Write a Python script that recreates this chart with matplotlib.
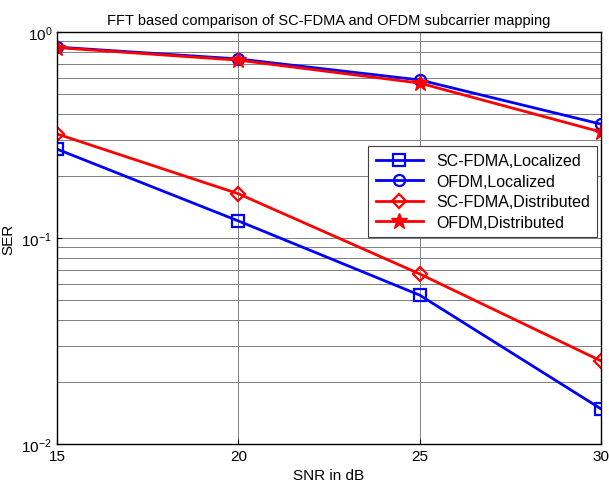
import matplotlib
matplotlib.use("Agg")
import matplotlib.pyplot as plt
from matplotlib.ticker import LogLocator, NullFormatter

snr = [15, 20, 25, 30]
sc_loc = [0.27, 0.121, 0.0528, 0.0148]
ofdm_loc = [0.845, 0.74, 0.585, 0.357]
sc_dist = [0.32, 0.164, 0.0669, 0.0253]
ofdm_dist = [0.84, 0.73, 0.565, 0.327]

plt.rcParams['font.family'] = ['Liberation Sans', 'DejaVu Sans']

fig = plt.figure(figsize=(6.09, 4.89), dpi=100)
ax = fig.add_axes([0.0936, 0.09, 0.8934, 0.8425])

ax.semilogy(snr, sc_loc, 'b-s', lw=2, ms=8, mfc='none', mew=1.6, label='SC-FDMA,Localized')
ax.semilogy(snr, ofdm_loc, 'b-o', lw=2, ms=8, mfc='none', mew=1.6, label='OFDM,Localized')
ax.semilogy(snr, sc_dist, 'r-D', lw=2, ms=7, mfc='none', mew=1.6, label='SC-FDMA,Distributed')
ax.semilogy(snr, ofdm_dist, 'r-*', lw=2, ms=12, label='OFDM,Distributed')

ax.set_xlim(15, 30)
ax.set_ylim(1e-2, 1)
ax.set_xticks([15, 20, 25, 30])
ax.yaxis.set_major_locator(LogLocator(base=10))
ax.yaxis.set_minor_locator(LogLocator(base=10, subs=range(2, 10)))
ax.yaxis.set_minor_formatter(NullFormatter())
ax.grid(True, which='major', color='#808080', lw=0.7)
ax.grid(True, which='minor', axis='y', color='#808080', lw=0.7)
ax.tick_params(which='both', direction='in', labelsize=11)
ax.tick_params(which='minor', length=0)
for s in ax.spines.values():
    s.set_linewidth(1.0)

ax.set_xlabel('SNR in dB', fontsize=11)
ax.set_ylabel('SER', fontsize=11)
ax.set_title('FFT based comparison of SC-FDMA and OFDM subcarrier mapping', fontsize=10.5)

leg = ax.legend(loc='upper right', bbox_to_anchor=(0.993, 0.723), borderaxespad=0,
                fontsize=11.5, fancybox=False, framealpha=1, edgecolor='#404040',
                handlelength=3, borderpad=0.45, labelspacing=0.35)
leg.get_frame().set_linewidth(0.8)

fig.savefig('out.png', dpi=100)
